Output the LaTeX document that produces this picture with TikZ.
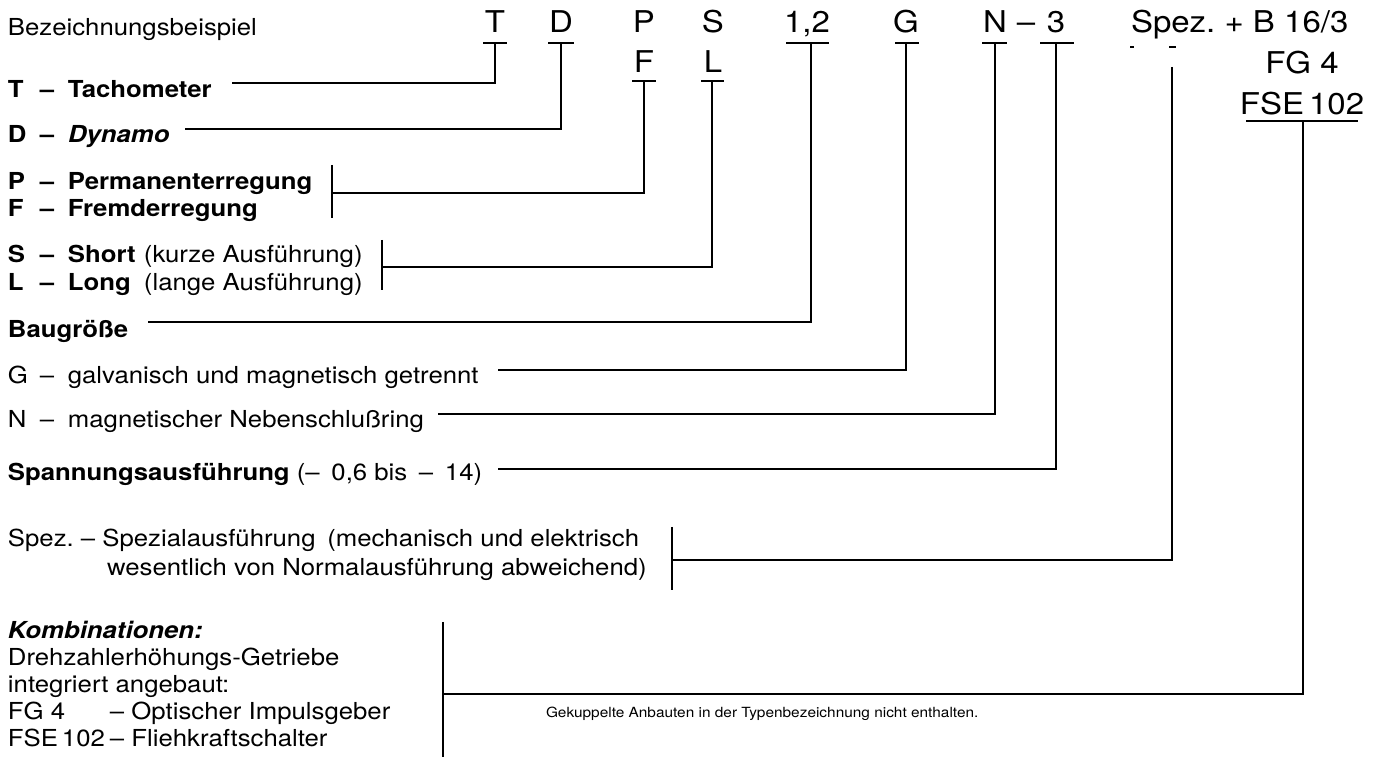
\documentclass[tikz,border=0pt]{standalone}
\usepackage{fontspec}
\setmainfont{TeX Gyre Heros}[FakeStretch=1.1]
\newcommand\kenn[2]{\makebox[16pt][l]{#1}\makebox[14pt][l]{–}#2}
\begin{document}
\begin{tikzpicture}[x=0.5pt,y=-0.5pt,
    every node/.style={inner sep=0pt,outer sep=0pt},
    code/.style={anchor=base,font=\fontsize{15}{18}\selectfont},
    lbl/.style={anchor=base west,font=\fontsize{11.7}{14}\selectfont},
    note/.style={anchor=base west,font=\fontsize{7}{8.5}\selectfont},
    link/.style={line width=0.75pt},
    under/.style={line width=0.9pt}]
  \useasboundingbox (0,0) rectangle (1373,769);

  \node[lbl] (title) at (8,36) {Bezeichnungsbeispiel};
  \node[code] (cT) at (495,33) {T};
  \node[code] (cD) at (561,33) {D};
  \node[code] (cP) at (644,33) {P};
  \node[code] (cS) at (713,33) {S};
  \node[code] (cSize) at (807,33) {1,2};
  \node[code] (cG) at (906,33) {G};
  \node[code] (cN) at (995,33) {N};
  \node[code] (cMinus) at (1026,33) {–};
  \node[code] (cVolt) at (1056,33) {3};
  \node[code,anchor=base west] (cSpez) at (1131,33) {Spez.\ + B 16/3};
  \node[code] (cF) at (644,73) {F};
  \node[code] (cL) at (713,73) {L};
  \node[code] (cFG) at (1302,74) {FG 4};
  \node[code] (cFSE) at (1302,115) {FSE\,102};

  \coordinate (uT) at (495,43);
  \coordinate (uD) at (561,43);
  \coordinate (uF) at (644,81);
  \coordinate (uL) at (712,81);
  \coordinate (uSize) at (811,43);
  \coordinate (uG) at (906,43);
  \coordinate (uN) at (995,43);
  \coordinate (uVolt) at (1056,43);
  \coordinate (uSpez) at (1172,67);
  \coordinate (uFSE) at (1303,121);

  \begin{scope}[under]
    \draw (483,43) -- (507,43);
    \draw (548,43) -- (574,43);
    \draw (632,81) -- (656,81);
    \draw (701,81) -- (724,81);
    \draw (786,43) -- (829,43);
    \draw (895,43) -- (919,43);
    \draw (982,43) -- (1007,43);
    \draw (1040,43) -- (1074,43);
    \draw[line width=0.6pt] (1130,47) -- (1134,47);
    \draw[line width=0.6pt] (1169,47) -- (1176,47);
    \draw (1246,121) -- (1358,121);
  \end{scope}

  \node[lbl] (lT) at (8,98) {\bfseries\kenn{T}{Tachometer}};
  \node[lbl] (lD) at (8,143) {\bfseries\kenn{D}{\itshape Dynamo}};
  \node[lbl] (lP) at (8,190) {\bfseries\kenn{P}{Permanenterregung}};
  \node[lbl] (lF) at (8,217) {\bfseries\kenn{F}{Fremderregung}};
  \node[lbl] (lS) at (8,263) {\bfseries\kenn{S}{\makebox[38pt][l]{Short}\mdseries(kurze Ausführung)}};
  \node[lbl] (lL) at (8,291) {\bfseries\kenn{L}{\makebox[38pt][l]{Long}\mdseries(lange Ausführung)}};
  \node[lbl] (lSize) at (8,338) {\bfseries Baugröße};
  \node[lbl] (lG) at (8,384) {\kenn{G}{galvanisch und magnetisch getrennt}};
  \node[lbl] (lN) at (8,428) {\kenn{N}{magnetischer Nebenschlußring}};
  \node[lbl] (lVolt) at (8,481) {\textbf{Spannungsausführung} (–\enspace0,6 bis\enspace–\enspace14)};
  \node[lbl] (lSpez) at (8,547) {Spez.\ – Spezialausführung\enspace(mechanisch und elektrisch};
  \node[lbl] (lSpezB) at (107,576) {wesentlich von Normalausführung abweichend)};
  \node[lbl] (lKomb) at (8,639) {\bfseries\itshape Kombinationen:};
  \node[lbl] (lGear) at (8,666) {Drehzahlerhöhungs-Getriebe};
  \node[lbl] (lInt) at (8,693) {integriert angebaut:};
  \node[lbl] (lFG) at (8,720) {\makebox[51pt][l]{FG 4}– Optischer Impulsgeber};
  \node[lbl] (lFSE) at (8,747) {\makebox[51pt][l]{FSE\,102}– Fliehkraftschalter};
  \node[note] (lNote) at (546,718) {Gekuppelte Anbauten in der Typenbezeichnung nicht enthalten.};

  \coordinate (eT) at (232,83);
  \coordinate (eD) at (185,129);
  \coordinate (bPF) at (332,193);
  \coordinate (bSL) at (382,267);
  \coordinate (eSize) at (148,322);
  \coordinate (eG) at (498,370);
  \coordinate (eN) at (438,414);
  \coordinate (eVolt) at (498,469);
  \coordinate (bSpez) at (672,560);
  \coordinate (bKomb) at (443,694);

  \begin{scope}[link]
    \draw (332,165) -- (332,218);
    \draw (382,240) -- (382,290);
    \draw (672,527) -- (672,590);
    \draw (443,622) -- (443,757);
    \draw (uT) |- (eT);
    \draw (uD) |- (eD);
    \draw (uF) |- (bPF);
    \draw (uL) |- (bSL);
    \draw (uSize) |- (eSize);
    \draw (uG) |- (eG);
    \draw (uN) |- (eN);
    \draw (uVolt) |- (eVolt);
    \draw (uSpez) |- (bSpez);
    \draw (uFSE) |- (bKomb);
  \end{scope}
\end{tikzpicture}
\end{document}
